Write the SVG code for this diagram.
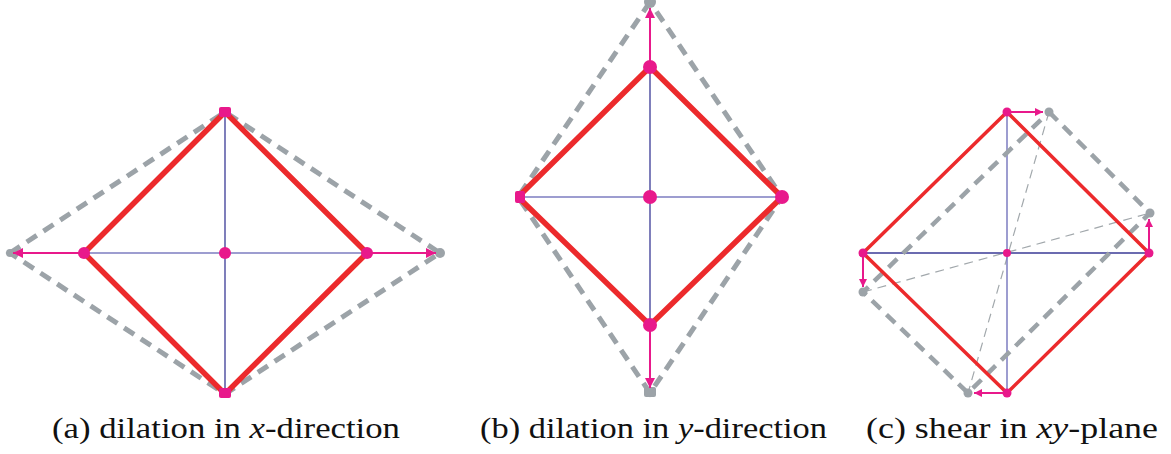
<svg xmlns="http://www.w3.org/2000/svg" width="1171" height="454" viewBox="0 0 1171 454">
<style>
.red{fill:none;stroke:#ec2a2c;stroke-linejoin:round}
.gd{fill:none;stroke:#9ca3a8;stroke-dasharray:12 8}
.gt{fill:none;stroke:#a2a8ac;stroke-width:1.2;stroke-dasharray:9 6}
.bn{stroke:#3a3a96;stroke-width:1.3}
.bl{stroke:#7c7cc0;stroke-width:1.5}
.pk{fill:#e8198b}
.gy{fill:#9ca3a8}
.arr{stroke:#e8198b;stroke-width:2;fill:none}
.cap{font-family:"Liberation Serif","DejaVu Serif",serif;font-size:29px;fill:#111}
</style>
<defs>
<marker id="ah" viewBox="0 0 10 10" refX="10" refY="5" markerWidth="12" markerHeight="10" markerUnits="userSpaceOnUse" orient="auto">
<path d="M0,0 L10,5 L0,10 Z" fill="#e8198b"/>
</marker>
<marker id="ahs" viewBox="0 0 10 10" refX="10" refY="5" markerWidth="10" markerHeight="8" markerUnits="userSpaceOnUse" orient="auto">
<path d="M0,0 L10,5 L0,10 Z" fill="#e8198b"/>
</marker>
</defs>

<g id="panel-a">
<polygon class="gd" stroke-width="5" points="10,253 225,112 440,253 225,394"/>
<line class="bl" x1="84" y1="253" x2="367" y2="253"/>
<line class="bn" x1="225" y1="112" x2="225" y2="394"/>
<polygon class="red" stroke-width="5.5" points="225,112 367,253 225,394 84,253"/>
<g id="a-nodes">
<circle class="gy" cx="440" cy="253" r="5"/>
<circle class="gy" cx="10" cy="253" r="4"/>
<circle class="pk" cx="84" cy="253" r="6"/>
<circle class="pk" cx="367" cy="253" r="6"/>
<circle class="pk" cx="225" cy="253" r="6"/>
<rect class="pk" x="219" y="107" width="12" height="10" rx="2"/>
<rect class="pk" x="219" y="388" width="12" height="10" rx="2"/>
</g>
</g>

<g id="panel-b">
<polygon class="gd" stroke-width="5" points="650,2 518,197 650,393 782,197"/>
<line class="bl" x1="518" y1="197" x2="782" y2="197"/>
<line class="bn" x1="650" y1="67" x2="650" y2="325"/>
<polygon class="red" stroke-width="5.5" points="650,67 782,197 650,325 518,197"/>
<g id="b-nodes">
<circle class="gy" cx="650" cy="2" r="6"/>
<rect class="gy" x="644" y="387" width="12" height="10" rx="2"/>
<circle class="pk" cx="650" cy="67" r="7"/>
<circle class="pk" cx="650" cy="325" r="7"/>
<circle class="pk" cx="650" cy="197" r="7"/>
<circle class="pk" cx="782" cy="197" r="7"/>
<rect class="pk" x="515" y="191" width="10" height="12" rx="2"/>
</g>
</g>

<g id="panel-c">
<line class="gt" x1="1049" y1="112" x2="968" y2="393"/>
<line class="gt" x1="863" y1="292" x2="1150" y2="213"/>
<line class="bn" x1="863" y1="253" x2="1149" y2="253"/>
<line class="bl" x1="1007" y1="112" x2="1007" y2="393" stroke="#9a9ad0"/>
<polygon class="gd" stroke-width="4.5" points="1049,112 1150,213 968,393 863,292"/>
<polygon class="red" stroke-width="3.5" points="1007,112 1149,253 1007,393 863,253"/>
<g id="c-nodes">
<circle class="gy" cx="1049" cy="112" r="4.5"/>
<circle class="gy" cx="1150" cy="213" r="4.5"/>
<circle class="gy" cx="968" cy="393" r="4.5"/>
<circle class="gy" cx="863" cy="292" r="4.5"/>
<circle class="pk" cx="1007" cy="112" r="4.5"/>
<circle class="pk" cx="1149" cy="253" r="4.5"/>
<circle class="pk" cx="1007" cy="393" r="4.5"/>
<circle class="pk" cx="863" cy="253" r="4.5"/>
<circle class="pk" cx="1007" cy="253" r="4"/>
</g>
</g>

<g id="connectors">
<line class="arr" x1="84" y1="253" x2="13" y2="253" marker-end="url(#ah)"/>
<line class="arr" x1="367" y1="253" x2="436" y2="253" marker-end="url(#ah)"/>
<line class="arr" x1="650" y1="67" x2="650" y2="8" marker-end="url(#ah)"/>
<line class="arr" x1="650" y1="325" x2="650" y2="388" marker-end="url(#ah)"/>
<line class="arr" stroke-width="1.6" x1="1007" y1="112" x2="1043" y2="112" marker-end="url(#ahs)"/>
<line class="arr" stroke-width="1.6" x1="1149" y1="253" x2="1149" y2="219" marker-end="url(#ahs)"/>
<line class="arr" stroke-width="1.6" x1="1007" y1="393" x2="974" y2="393" marker-end="url(#ahs)"/>
<line class="arr" stroke-width="1.6" x1="863" y1="253" x2="863" y2="287" marker-end="url(#ahs)"/>
</g>

<g id="captions">
<text class="cap" x="52" y="438" textLength="348" lengthAdjust="spacingAndGlyphs">(a) dilation in <tspan font-style="italic">x</tspan>-direction</text>
<text class="cap" x="480" y="438" textLength="347" lengthAdjust="spacingAndGlyphs">(b) dilation in <tspan font-style="italic">y</tspan>-direction</text>
<text class="cap" x="866" y="438" textLength="292" lengthAdjust="spacingAndGlyphs">(c) shear in <tspan font-style="italic">xy</tspan>-plane</text>
</g>
</svg>
